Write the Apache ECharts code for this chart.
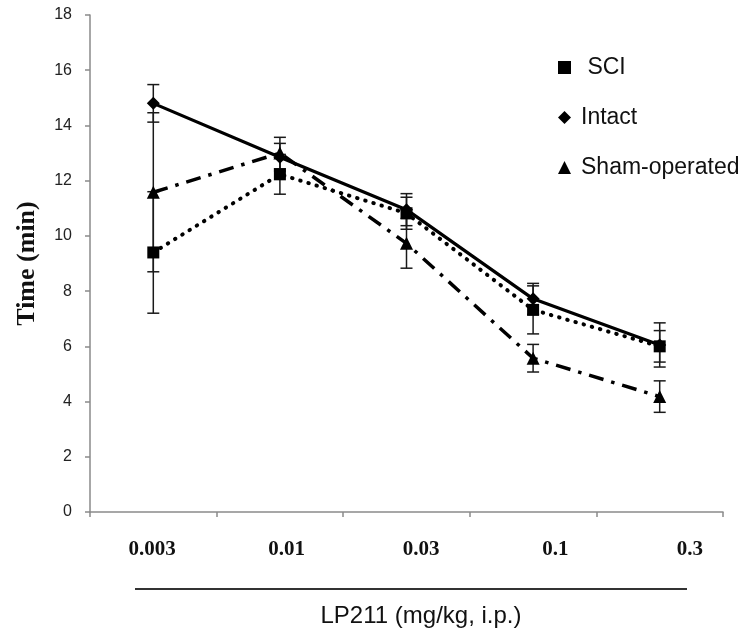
<!DOCTYPE html>
<html>
<head>
<meta charset="utf-8">
<script src="https://cdn.jsdelivr.net/npm/echarts@6/dist/echarts.min.js"></script>
<style>
html,body{margin:0;padding:0;background:#fff;}
#chart{width:746px;height:628px;}
</style>
</head>
<body>
<div id="chart"></div>
<script>
const doses = ['0.003', '0.01', '0.03', '0.1', '0.3'];
const sciMean = [9.4, 12.23, 10.82, 7.32, 6.0];
const sciErr = [2.2, 0.72, 0.58, 0.87, 0.57];
const intactMean = [14.8, 12.85, 10.95, 7.72, 6.05];
const intactErr = [0.68, 0.5, 0.58, 0.56, 0.8];
const shamMean = [11.58, 13.0, 9.73, 5.57, 4.18];
const shamErr = [2.88, 0.57, 0.9, 0.5, 0.57];
const yTicks = { min: 0, max: 18, interval: 2 };

const SANS = 'Liberation Sans, Arial, sans-serif';
const SERIF = 'Liberation Serif, Times New Roman, serif';

function errData(mean, err) {
  return mean.map((m, i) => [i, m - err[i], m + err[i]]);
}
function errRender(params, api) {
  const x = api.value(0);
  const lo = api.coord([x, api.value(1)]);
  const hi = api.coord([x, api.value(2)]);
  const w = 6;
  const st = { stroke: '#1a1a1a', lineWidth: 1.5 };
  return {
    type: 'group',
    children: [
      { type: 'line', shape: { x1: lo[0], y1: lo[1], x2: hi[0], y2: hi[1] }, style: st },
      { type: 'line', shape: { x1: hi[0] - w, y1: hi[1], x2: hi[0] + w, y2: hi[1] }, style: st },
      { type: 'line', shape: { x1: lo[0] - w, y1: lo[1], x2: lo[0] + w, y2: lo[1] }, style: st }
    ]
  };
}
function errSeries(name, mean, err) {
  return {
    name: name + ' err', type: 'custom', xAxisIndex: 0, yAxisIndex: 0,
    renderItem: errRender, data: errData(mean, err),
    encode: { x: 0, y: [1, 2] }, z: 3, silent: true, legendHoverLink: false
  };
}

const chart = echarts.init(document.getElementById('chart'), null, { renderer: 'canvas' });
chart.setOption({
  animation: false,
  backgroundColor: '#fff',
  grid: [
    { left: 90, right: 23, top: 15, bottom: 116, outerBoundsMode: 'none' },
    { left: 85, right: -11, top: 15, bottom: 116, outerBoundsMode: 'none' }
  ],
  legend: {
    orient: 'vertical', left: 553, top: 51, itemGap: 27,
    itemWidth: 13, itemHeight: 13,
    formatter: function (n) { return n === 'SCI' ? ' SCI' : n; },
    textStyle: { fontFamily: SANS, fontSize: 23, color: '#111', padding: [0, 0, 0, 5] },
    data: [
      { name: 'SCI', icon: 'rect' },
      { name: 'Intact', icon: 'diamond' },
      { name: 'Sham-operated', icon: 'triangle' }
    ],
    itemStyle: { color: '#000' }
  },
  xAxis: [
    {
      type: 'category', gridIndex: 0, data: doses, boundaryGap: true,
      axisLine: { lineStyle: { color: '#8a8a8a', width: 1.5 } },
      axisTick: { show: true, length: 5, alignWithLabel: false, lineStyle: { color: '#8a8a8a', width: 1.5 } },
      axisLabel: { show: false },
      splitLine: { show: false }
    },
    {
      type: 'category', gridIndex: 1, data: doses, boundaryGap: true,
      axisLine: { show: false }, axisTick: { show: false }, splitLine: { show: false },
      axisLabel: { fontFamily: SERIF, fontWeight: 'bold', fontSize: 21, color: '#111', margin: 27 },
      name: 'LP211 (mg/kg, i.p.)', nameLocation: 'middle', nameGap: 92,
      nameMoveOverlap: false,
      nameTextStyle: { fontFamily: SANS, fontSize: 24, color: '#111' }
    }
  ],
  yAxis: [
    {
      type: 'value', gridIndex: 0, min: yTicks.min, max: yTicks.max, interval: yTicks.interval,
      axisLine: { show: true, lineStyle: { color: '#8a8a8a', width: 1.5 } },
      axisTick: { show: true, length: 5, lineStyle: { color: '#8a8a8a', width: 1.5 } },
      axisLabel: { fontFamily: SANS, fontSize: 16, color: '#222', margin: 18 },
      splitLine: { show: false },
      name: 'Time (min)', nameLocation: 'middle', nameGap: 50, nameRotate: 90,
      nameTextStyle: { fontFamily: SERIF, fontWeight: 'bold', fontSize: 26, color: '#111' }
    },
    { type: 'value', gridIndex: 1, min: yTicks.min, max: yTicks.max, show: false }
  ],
  series: [
    errSeries('SCI', sciMean, sciErr),
    errSeries('Intact', intactMean, intactErr),
    errSeries('Sham-operated', shamMean, shamErr),
    {
      name: 'SCI', type: 'line', data: sciMean, z: 4,
      symbol: 'rect', symbolSize: 12,
      itemStyle: { color: '#000' },
      lineStyle: { color: '#000', width: 4, type: [0.5, 8], cap: 'round' }
    },
    {
      name: 'Intact', type: 'line', data: intactMean, z: 5,
      symbol: 'diamond', symbolSize: 13,
      itemStyle: { color: '#000' },
      lineStyle: { color: '#000', width: 3.2 }
    },
    {
      name: 'Sham-operated', type: 'line', data: shamMean, z: 4,
      symbol: 'triangle', symbolSize: 13,
      itemStyle: { color: '#000' },
      lineStyle: { color: '#000', width: 3.5, type: [15, 8, 3.5, 8], cap: 'butt' }
    }
  ],
  graphic: [
    { type: 'line', shape: { x1: 135, y1: 589, x2: 687, y2: 589 }, style: { stroke: '#333', lineWidth: 2 } }
  ]
});
</script>
</body>
</html>
